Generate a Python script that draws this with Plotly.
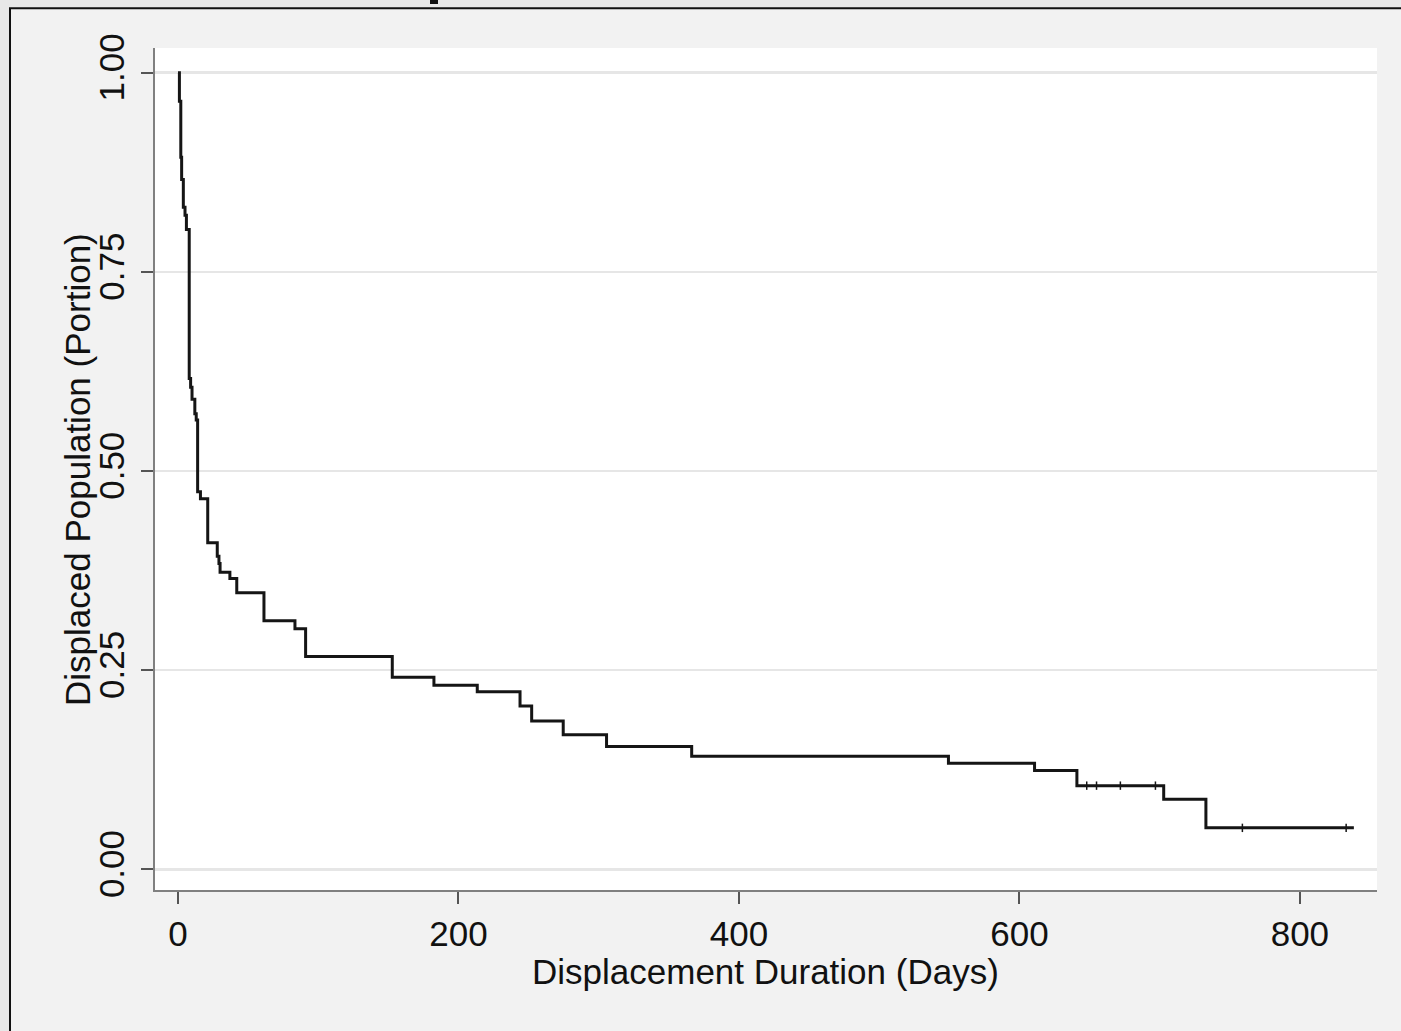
import plotly.graph_objects as go

# Kaplan-Meier step data (time of drop in days, survival after drop)
times = [0, 1, 2, 2.6, 3.8, 5, 6, 8, 9, 10, 12, 13, 14, 16, 21.2, 28, 29.2, 30, 37, 41.9,
         61.3, 83.4, 91, 152.8, 182.5, 213.4, 243.9, 252.2, 274.7, 305.6, 366.3, 549.4,
         610.8, 641, 702.9, 733, 838.5]
survival = [1.0, 0.964, 0.894, 0.866, 0.831, 0.821, 0.803, 0.616, 0.605, 0.590, 0.572, 0.564,
            0.474, 0.465, 0.410, 0.393, 0.384, 0.373, 0.365, 0.347, 0.312, 0.302, 0.267, 0.241,
            0.231, 0.223, 0.205, 0.186, 0.169, 0.154, 0.142, 0.133, 0.124, 0.105, 0.088, 0.052,
            0.052]

censor_times = [648, 655, 672, 697, 759, 833]
censor_surv = [0.105, 0.105, 0.105, 0.105, 0.052, 0.052]

x_ticks = [0, 200, 400, 600, 800]
y_ticks = [0, 0.25, 0.5, 0.75, 1.0]
y_ticklabels = ["0.00", "0.25", "0.50", "0.75", "1.00"]

x_title = "Displacement Duration (Days)"
y_title = "Displaced Population (Portion)"

W, H = 1401, 1031
L, R, T, B = 155, 24, 48, 141
PW, PH = W - L - R, H - T - B


def px_x(px):
    return (px - L) / PW


def px_y(py):
    return (H - B - py) / PH


FONT = "Liberation Sans Narrow, Arial Narrow, Liberation Sans, Arial, sans-serif"

fig = go.Figure()
fig.add_trace(go.Scatter(
    x=times, y=survival, mode="lines", line=dict(shape="hv", color="#151515", width=3),
    hoverinfo="skip", showlegend=False))
fig.add_trace(go.Scatter(
    x=censor_times, y=censor_surv, mode="markers",
    marker=dict(symbol="line-ns", size=6, line=dict(color="#151515", width=1.5)),
    hoverinfo="skip", showlegend=False))

shapes = [
    # outer frame
    dict(type="rect", xref="paper", yref="paper", x0=px_x(10), x1=px_x(1450), y0=px_y(1100), y1=px_y(8.3),
         fillcolor="#f2f2f2", line=dict(color="#111111", width=2), layer="below"),
    # plot region
    dict(type="rect", xref="paper", yref="paper", x0=0, x1=1, y0=0, y1=1,
         fillcolor="#ffffff", line=dict(width=0), layer="below"),
    # remnant of cut-off title
    dict(type="rect", xref="paper", yref="paper", x0=px_x(430), x1=px_x(438), y0=px_y(4), y1=px_y(-2),
         fillcolor="#111111", line=dict(width=0), layer="below"),
]

fig.update_layout(
    width=W, height=H,
    margin=dict(l=L, r=R, t=T, b=B, pad=0),
    paper_bgcolor="#e8e8e8",
    plot_bgcolor="rgba(0,0,0,0)",
    shapes=shapes,
    font=dict(family=FONT, color="#111111", size=36),
    xaxis=dict(range=[-16.4, 855], tickvals=x_ticks, ticks="outside", ticklen=12, tickwidth=2,
               tickcolor="#555555", showline=True, linecolor="#808080", linewidth=2,
               showgrid=False, zeroline=False, tickfont=dict(size=35), ticklabelstandoff=0),
    yaxis=dict(range=[-0.026, 1.031], tickvals=y_ticks, ticktext=y_ticklabels, tickangle=-90,
               ticks="outside", ticklen=12, tickwidth=2, tickcolor="#555555",
               showline=True, linecolor="#808080", linewidth=2,
               showgrid=True, gridcolor="#e6e6e6", gridwidth=2.5, zeroline=False,
               tickfont=dict(size=35), ticklabelstandoff=3),
    annotations=[
        dict(text=x_title, xref="paper", yref="paper", x=px_x(765), y=px_y(971),
             xanchor="center", yanchor="middle", showarrow=False, font=dict(size=35)),
        dict(text=y_title, xref="paper", yref="paper", x=px_x(77), y=px_y(470),
             xanchor="center", yanchor="middle", showarrow=False, textangle=-90,
             font=dict(size=35)),
    ],
)

fig.write_html(
    "out.html",
    config={"displayModeBar": False, "staticPlot": True},
    post_script="document.body.style.margin='0';document.body.style.padding='0';"
                "document.body.style.background='#e8e8e8';document.body.style.overflow='hidden';",
)
